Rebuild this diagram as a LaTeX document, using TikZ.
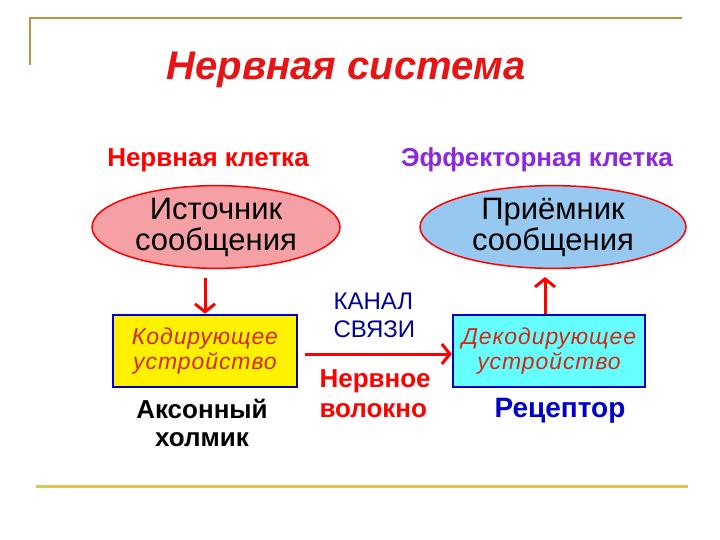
\documentclass[tikz,border=0pt]{standalone}
\usepackage{fontspec}
\setmainfont{Liberation Sans}
\newfontfamily\spacedital[LetterSpace=4]{Liberation Sans}
\usetikzlibrary{shapes.geometric, arrows.meta}
\definecolor{framegold}{RGB}{176,152,64}
\definecolor{footgold}{RGB}{226,196,90}
\definecolor{titlered}{RGB}{230,20,20}
\definecolor{effviolet}{RGB}{140,40,220}
\definecolor{pinkfill}{RGB}{244,160,164}
\definecolor{bluefill}{RGB}{150,200,240}
\definecolor{boxblue}{RGB}{0,0,200}
\definecolor{cyanfill}{RGB}{102,255,255}
\definecolor{navy}{RGB}{0,0,150}
\definecolor{codered}{RGB}{210,40,20}
\tikzset{
  source/.style={ellipse, draw=red, line width=1.5pt, minimum width=248pt, minimum height=80pt, inner sep=0pt, align=center, font=\fontsize{31}{31}\selectfont},
  device/.style={rectangle, draw=boxblue, line width=2.5pt, minimum width=184pt, minimum height=72pt, inner sep=0pt, align=center, text=codered, font=\spacedital\itshape\fontsize{23}{25}\selectfont},
  caption/.style={font=\bfseries\fontsize{26}{28}\selectfont, align=center},
  redarrow/.style={red, line width=3pt, -{Straight Barb[length=8pt, width=20pt]}}
}
\begin{document}
\begin{tikzpicture}[x=1pt, y=-1pt]
\useasboundingbox (0,0) rectangle (720,540);

% Frame lines
\draw[framegold, line width=2pt] (30,65) -- (30,18) -- (682,18);
\draw[footgold, line width=3pt] (36,486) -- (688,486);

% Title
\node[text=titlered, font=\bfseries\itshape\fontsize{40}{42}\selectfont] (title) at (346,70) {Нервная система};

% Cell labels
\node[caption, text=red] (nervecell) at (208,160) {Нервная клетка};
\node[caption, text=effviolet] (effcell) at (537,160) {Эффекторная клетка};

% Source and receiver
\node[source, fill=pinkfill] (src) at (216,227) {Источник\\сообщения};
\node[source, fill=bluefill, minimum width=266pt] (rcv) at (553,227) {Приёмник\\сообщения};

% Coder and decoder
\node[device, fill=yellow] (coder) at (205,351) {Кодирующее\\устройство};
\node[device, fill=cyanfill, minimum width=192pt] (decoder) at (549,351) {Декодирующее\\устройство};

% Channel
\node[text=navy, font=\fontsize{24}{28}\selectfont, align=left, anchor=north west] (channel) at (330,289) {КАНАЛ\\СВЯЗИ};
\node[caption, text=red, align=left, anchor=north west, font=\bfseries\fontsize{26}{30}\selectfont] (fibre) at (316,366) {Нервное\\волокно};

% Captions under boxes
\node[caption] (hillock) at (202,423) {Аксонный\\холмик};
\node[caption, text=boxblue, font=\bfseries\fontsize{28}{30}\selectfont] (receptor) at (560,411) {Рецептор};

% Arrows
\coordinate (downtop) at (205,278);
\coordinate (uptop) at (545,277);
\coordinate (chstart) at (305,354);
\draw[redarrow] (downtop) -- (downtop |- coder.north);
\draw[redarrow] (uptop |- decoder.north) -- (uptop);
\draw[redarrow] (chstart) -- (chstart -| decoder.west);
\end{tikzpicture}
\end{document}
